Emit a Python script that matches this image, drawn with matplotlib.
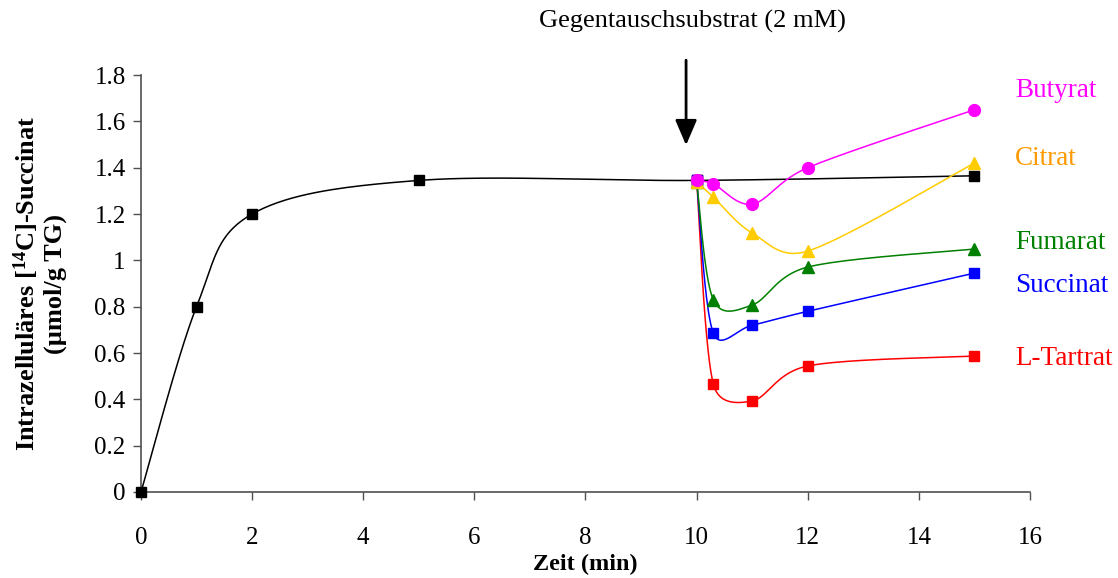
import numpy as np
import matplotlib
matplotlib.use("Agg")
import matplotlib.pyplot as plt

plt.rcParams['font.family'] = ['Liberation Serif', 'DejaVu Serif']
plt.rcParams['mathtext.fontset'] = 'custom'
plt.rcParams['mathtext.rm'] = 'Liberation Serif'
plt.rcParams['mathtext.bf'] = 'Liberation Serif:bold'

# Kontrolle (ohne Gegentauschsubstrat)
x_control = [0, 1, 2, 5, 10, 15]
y_control = [0.0, 0.80, 1.20, 1.345, 1.345, 1.365]

# nach Zugabe des Gegentauschsubstrats
x_exch = [10, 10.3, 11, 12, 15]
y_butyrat = [1.345, 1.33, 1.243, 1.40, 1.65]
y_citrat = [1.34, 1.273, 1.118, 1.04, 1.42]
y_fumarat = [1.34, 0.83, 0.807, 0.971, 1.049]
y_succinat = [1.345, 0.686, 0.72, 0.78, 0.945]
y_tartrat = [1.345, 0.466, 0.393, 0.544, 0.587]

names = ['L-Tartrat', 'Succinat', 'Fumarat', 'Citrat', 'Butyrat']
series = [y_tartrat, y_succinat, y_fumarat, y_citrat, y_butyrat]
line_colors = ['#FF0000', '#0000FF', '#008000', '#FFCC00', '#FF00FF']
text_colors = ['#FF0000', '#0000FF', '#008000', '#FF9900', '#FF00FF']
markers = ['s', 's', '^', '^', 'o']
label_y = [0.578, 0.893, 1.075, 1.441, 1.735]


def smooth(ax, xs, ys, n=40):
    # Bezier-Glättung ähnlich Excel: Arme 1/6 der Nachbardifferenz,
    # höchstens halbe Segmentlänge (in Pixeln gerechnet)
    tr = ax.transData
    p = tr.transform(np.column_stack([xs, ys]).astype(float))
    pts = []
    for i in range(len(p) - 1):
        p0 = p[i - 1] if i > 0 else p[i]
        p1 = p[i]
        p2 = p[i + 1]
        p3 = p[i + 2] if i + 2 < len(p) else p[i + 1]
        seg_len = np.hypot(*(p2 - p1))
        a1 = (p2 - p0) / 6.0
        a2 = (p3 - p1) / 6.0
        l1 = np.hypot(*a1)
        l2 = np.hypot(*a2)
        if l1 > seg_len / 2:
            a1 = a1 * (seg_len / 2) / l1
        if l2 > seg_len / 2:
            a2 = a2 * (seg_len / 2) / l2
        c1 = p1 + a1
        c2 = p2 - a2
        t = np.linspace(0, 1, n)[:, None]
        seg = ((1 - t) ** 3) * p1 + 3 * ((1 - t) ** 2) * t * c1 + 3 * (1 - t) * t ** 2 * c2 + t ** 3 * p2
        pts.append(seg if i == 0 else seg[1:])
    pts = tr.inverted().transform(np.vstack(pts))
    return pts[:, 0], pts[:, 1]


fig = plt.figure(figsize=(11.18, 5.78), dpi=100)
ax = fig.add_axes([0.1261, 0.1488, 0.7952, 0.7214])
ax.set_xlim(0, 16)
ax.set_ylim(0, 1.8)

sx, sy = smooth(ax, x_control, y_control)
ax.plot(sx, sy, color='black', lw=1.1, zorder=3)
ax.plot(x_control, y_control, 's', color='black', ms=7, zorder=4, clip_on=False)

for name, ys, lc, tc, mk, ly in zip(names, series, line_colors, text_colors, markers, label_y):
    sx, sy = smooth(ax, x_exch, ys)
    ax.plot(sx, sy, color=lc, lw=1.1, zorder=3)
    ax.plot(x_exch, ys, mk, color=lc, ms=8.5 if mk != 's' else 7, zorder=4, clip_on=False)
    ax.text(15.73, ly, name, color=tc, fontsize=19.5, ha='left', va='center', clip_on=False)

ax.annotate('', xy=(9.81, 1.497), xytext=(9.81, 1.864),
            arrowprops=dict(arrowstyle='-|>,head_length=0.7,head_width=0.3', color='black', lw=2,
                            mutation_scale=22, shrinkA=0, shrinkB=0),
            annotation_clip=False)
ax.text(9.93, 2.03, 'Gegentauschsubstrat (2 mM)', fontsize=19, ha='center', va='center', clip_on=False)

ax.set_xticks(np.arange(0, 17, 2))
ax.set_yticks(np.arange(0, 1.81, 0.2))
ax.set_yticklabels(['0', '0.2', '0.4', '0.6', '0.8', '1', '1.2', '1.4', '1.6', '1.8'])

for s in ['top', 'right']:
    ax.spines[s].set_visible(False)
for s in ['left', 'bottom']:
    ax.spines[s].set_color('#505050')
    ax.spines[s].set_linewidth(1.2)

ax.tick_params(axis='x', direction='out', length=6, width=1, pad=19, labelsize=18, colors='#505050', labelcolor='black')
ax.tick_params(axis='y', direction='out', length=6, width=1, pad=5, labelsize=18, colors='#505050', labelcolor='black')

ax.set_xlabel('Zeit (min)', fontsize=17.5, fontweight='bold', labelpad=4)
ax.set_ylabel('Intrazelluläres [$\\mathbf{^{14}}$C]-Succinat\n(µmol/g TG)', fontsize=19, fontweight='bold',
              labelpad=20, linespacing=1.1)

plt.savefig('out.png', dpi=100)
